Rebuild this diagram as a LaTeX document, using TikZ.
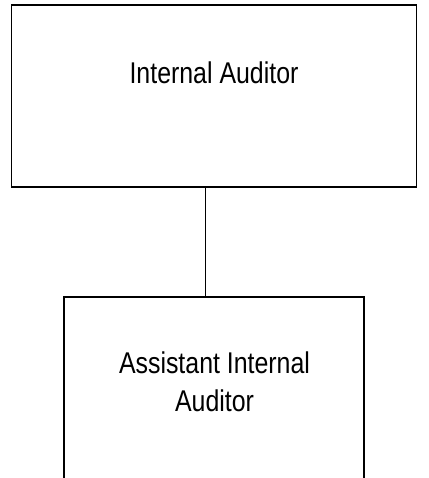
\documentclass[tikz,border=0pt]{standalone}
\usepackage{fontspec}
\newfontfamily\orgfont[FakeStretch=0.83]{Liberation Sans}
\tikzset{
    org/.cd,
    box/.style={draw,rectangle,line width=1.7pt,inner sep=0pt},
    label/.style={anchor=north,inner sep=0pt,align=center,font=\orgfont\fontsize{30}{38}\selectfont},
    link/.style={line width=1.7pt},
}
\begin{document}
\begin{tikzpicture}[x=1pt,y=-1pt]
      \useasboundingbox (0,0) rectangle (428,478);
      \clip (0,0) rectangle (428,478);

      \node[org/box,minimum width=405pt,minimum height=182pt] (ia) at (214,96) {};
      \node[org/box,minimum width=300pt,minimum height=203pt] (aia) at (214,398.5) {};

      \node[org/label] (ia-text) at (214,62) {Internal Auditor};
      \node[org/label] (aia-text) at (214.5,352) {Assistant Internal\\Auditor};

      \draw[org/link] ([xshift=-8.5pt]ia.south) -- ([xshift=-8.5pt]aia.north);
    \end{tikzpicture}
\end{document}
